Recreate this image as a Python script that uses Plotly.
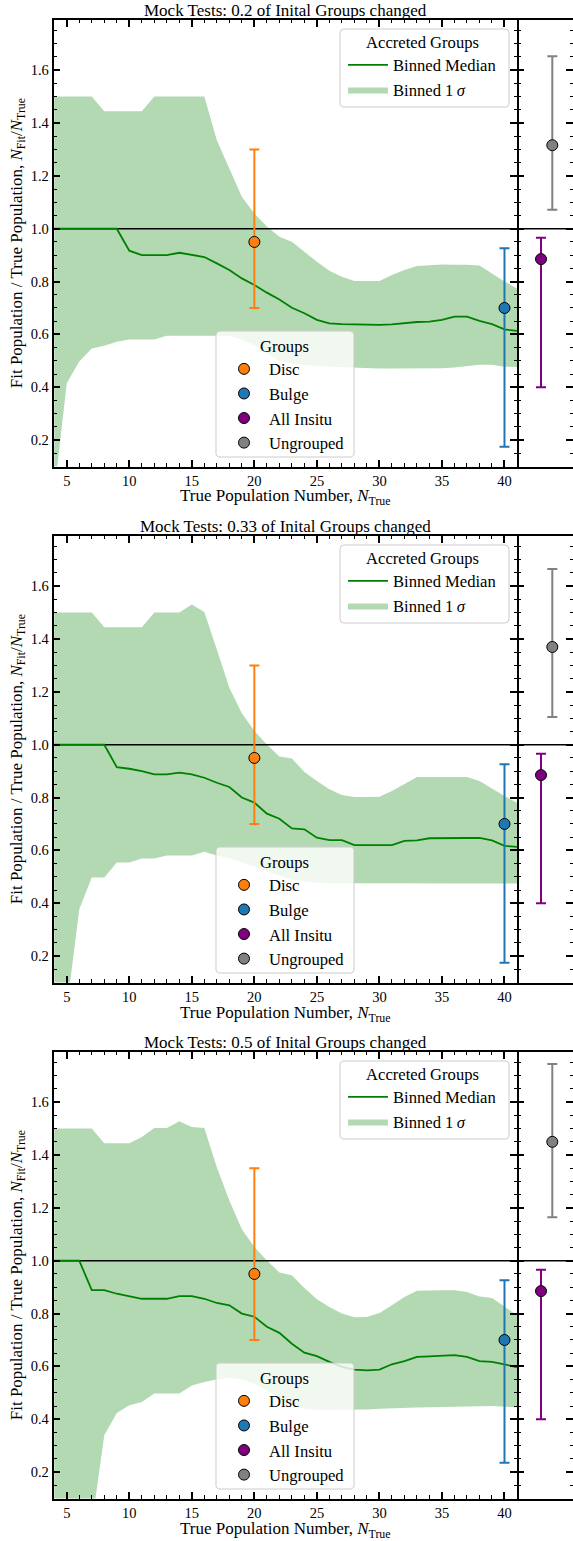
import plotly.graph_objects as go

W, H = 573, 1541
FONT = "Liberation Serif"

# ---------------- data ----------------
n_true = list(range(4, 42))
fractions = ["0.2", "0.33", "0.5"]

median_02 = [1.0, 1.0, 1.0, 1.0, 1.0, 1.0, 0.917, 0.90, 0.90, 0.90, 0.909, 0.902, 0.893, 0.869,
             0.844, 0.812, 0.787, 0.758, 0.732, 0.701, 0.68, 0.655, 0.642, 0.639, 0.638, 0.636,
             0.636, 0.638, 0.642, 0.647, 0.648, 0.655, 0.667, 0.667, 0.651, 0.639, 0.619, 0.613]
upper_02 = [1.5, 1.5, 1.5, 1.5, 1.445, 1.445, 1.445, 1.445, 1.5, 1.5, 1.5, 1.5, 1.5, 1.335,
            1.228, 1.121, 1.058, 1.008, 0.97, 0.951, 0.913, 0.875, 0.841, 0.818, 0.802, 0.802,
            0.802, 0.825, 0.844, 0.859, 0.861, 0.865, 0.864, 0.864, 0.861, 0.831, 0.80, 0.774]
lower_02 = [0.0, 0.415, 0.497, 0.547, 0.557, 0.572, 0.581, 0.581, 0.581, 0.595, 0.595, 0.595,
            0.595, 0.595, 0.595, 0.58, 0.56, 0.53, 0.50, 0.49, 0.485, 0.48, 0.478, 0.476, 0.474,
            0.472, 0.471, 0.471, 0.471, 0.471, 0.471, 0.472, 0.475, 0.48, 0.485, 0.485, 0.478, 0.477]

median_033 = [1.0, 1.0, 1.0, 1.0, 1.0, 0.915, 0.909, 0.90, 0.888, 0.888, 0.894, 0.888, 0.875,
              0.856, 0.84, 0.80, 0.781, 0.739, 0.72, 0.683, 0.68, 0.648, 0.639, 0.639, 0.62, 0.62,
              0.62, 0.62, 0.636, 0.638, 0.646, 0.647, 0.647, 0.647, 0.647, 0.638, 0.617, 0.613]
upper_033 = [1.5, 1.5, 1.5, 1.5, 1.445, 1.445, 1.445, 1.445, 1.5, 1.5, 1.5, 1.531, 1.502, 1.36,
             1.216, 1.119, 1.052, 1.001, 0.955, 0.948, 0.897, 0.863, 0.831, 0.81, 0.802, 0.802,
             0.803, 0.825, 0.852, 0.878, 0.878, 0.878, 0.878, 0.878, 0.863, 0.834, 0.806, 0.78]
lower_033 = [0.0, 0.0, 0.377, 0.497, 0.497, 0.554, 0.554, 0.569, 0.569, 0.581, 0.581, 0.581,
             0.595, 0.581, 0.57, 0.555, 0.54, 0.52, 0.505, 0.49, 0.483, 0.478, 0.476, 0.476,
             0.476, 0.476, 0.476, 0.475, 0.475, 0.475, 0.475, 0.475, 0.475, 0.475, 0.475, 0.475,
             0.475, 0.475]

median_05 = [1.0, 1.0, 1.0, 0.889, 0.889, 0.875, 0.866, 0.856, 0.856, 0.856, 0.866, 0.866, 0.856,
             0.84, 0.831, 0.80, 0.788, 0.75, 0.727, 0.686, 0.652, 0.639, 0.617, 0.598, 0.588,
             0.585, 0.588, 0.608, 0.62, 0.636, 0.638, 0.641, 0.643, 0.636, 0.62, 0.617, 0.608, 0.596]
upper_05 = [1.5, 1.5, 1.5, 1.5, 1.445, 1.445, 1.445, 1.468, 1.502, 1.502, 1.528, 1.506, 1.502,
            1.354, 1.228, 1.119, 1.052, 1.001, 0.955, 0.945, 0.897, 0.854, 0.825, 0.80, 0.786,
            0.787, 0.802, 0.831, 0.863, 0.886, 0.888, 0.888, 0.888, 0.882, 0.865, 0.859, 0.827, 0.793]
lower_05 = [0.0, 0.0, 0.0, 0.0, 0.339, 0.424, 0.453, 0.465, 0.497, 0.497, 0.497, 0.528, 0.541,
            0.55, 0.557, 0.55, 0.535, 0.51, 0.48, 0.455, 0.44, 0.435, 0.435, 0.435, 0.435, 0.437,
            0.44, 0.442, 0.443, 0.444, 0.445, 0.446, 0.448, 0.45, 0.45, 0.45, 0.447, 0.445]

medians = [median_02, median_033, median_05]
uppers = [upper_02, upper_033, upper_05]
lowers = [lower_02, lower_033, lower_05]
for arr in medians + uppers + lowers:
    assert len(arr) == len(n_true)

# grouped points (value, lower, upper) per panel
group_names = ["Disc", "Bulge", "All Insitu", "Ungrouped"]
group_colors = ["#ff7f0e", "#1f77b4", "#800080", "#808080"]
group_x = [20, 40, 1, 2]          # Disc/Bulge on N_True axis; others on side-panel slots
group_side = [False, False, True, True]
disc_val = [0.95, 0.95, 0.95]
disc_lo = [0.70, 0.70, 0.70]
disc_hi = [1.30, 1.30, 1.35]
bulge_val = [0.70, 0.70, 0.70]
bulge_lo = [0.175, 0.175, 0.235]
bulge_hi = [0.926, 0.926, 0.926]
insitu_val = [0.885, 0.885, 0.885]
insitu_lo = [0.40, 0.40, 0.40]
insitu_hi = [0.966, 0.966, 0.966]
ungr_val = [1.316, 1.37, 1.45]
ungr_lo = [1.072, 1.105, 1.165]
ungr_hi = [1.653, 1.665, 1.745]
group_vals = [disc_val, bulge_val, insitu_val, ungr_val]
group_los = [disc_lo, bulge_lo, insitu_lo, ungr_lo]
group_his = [disc_hi, bulge_hi, insitu_hi, ungr_hi]

ref_level = 1.0
x_range = [3.94, 41.0]
y_range = [0.1, 1.79]
side_range = [-1.124, 3.832]

# ---------------- geometry (pixels) ----------------
AX_L, AX_R, SIDE_R = 53.5, 517.0, 573.0
PANEL_TOP0, PANEL_H, PANEL_STEP = 20.0, 446.5, 516.0


def fx(px):
    return px / W


def fy(py):
    return 1 - py / H


fig = go.Figure()
layout = dict(
    width=W, height=H,
    margin=dict(l=0, r=0, t=0, b=0),
    paper_bgcolor="white", plot_bgcolor="rgba(0,0,0,0)",
    hovermode=False,
    font=dict(family=FONT, size=17, color="black"),
)
annotations = []
shapes = []

tickfont = dict(family=FONT, size=14.5, color="black")
legfont = dict(family=FONT, size=16.6, color="black")


def rounded_box(x0, y0, x1, y1, r=4):
    pts = [
        ("M", x0 + r, y0), ("L", x1 - r, y0), ("Q", x1, y0, x1, y0 + r),
        ("L", x1, y1 - r), ("Q", x1, y1, x1 - r, y1), ("L", x0 + r, y1),
        ("Q", x0, y1, x0, y1 - r), ("L", x0, y0 + r), ("Q", x0, y0, x0 + r, y0),
    ]
    s = ""
    for p in pts:
        if p[0] == "Q":
            s += "Q{:.5f},{:.5f} {:.5f},{:.5f} ".format(fx(p[1]), fy(p[2]), fx(p[3]), fy(p[4]))
        else:
            s += "{}{:.5f},{:.5f} ".format(p[0], fx(p[1]), fy(p[2]))
    return s + "Z"


for k in range(3):
    top = PANEL_TOP0 + k * PANEL_STEP
    bot = top + PANEL_H
    ydom = [fy(bot), fy(top)]
    mi = 2 * k + 1
    si = 2 * k + 2
    mx, my = ("x", "y") if mi == 1 else ("x%d" % mi, "y%d" % mi)
    sx, sy = "x%d" % si, "y%d" % si
    mxk = "xaxis" if mi == 1 else "xaxis%d" % mi
    myk = "yaxis" if mi == 1 else "yaxis%d" % mi
    sxk, syk = "xaxis%d" % si, "yaxis%d" % si
    leg_a = "legend" if k == 0 else "legend%d" % (2 * k + 1)
    leg_g = "legend%d" % (2 * k + 2)

    common = dict(showgrid=False, zeroline=False, showline=True, linecolor="black",
                  linewidth=1.5, automargin=False)
    layout[mxk] = dict(common, domain=[fx(AX_L), fx(AX_R)], range=x_range, anchor=my,
                       tickmode="linear", tick0=0, dtick=5, ticks="inside", ticklen=7,
                       tickwidth=1.5, tickcolor="black", mirror="ticks", tickfont=tickfont,
                       minor=dict(ticks="inside", ticklen=3.5, tickwidth=1.2,
                                  tickcolor="black", dtick=1, showgrid=False))
    layout[myk] = dict(common, domain=ydom, range=y_range, anchor=mx,
                       tickmode="linear", tick0=0, dtick=0.2, tickformat=".1f",
                       ticks="inside", ticklen=7, tickwidth=1.5, tickcolor="black",
                       mirror="ticks", tickfont=tickfont,
                       minor=dict(ticks="inside", ticklen=3.5, tickwidth=1.2,
                                  tickcolor="black", dtick=0.05, showgrid=False))
    layout[sxk] = dict(common, domain=[fx(AX_R), fx(SIDE_R)], range=side_range, anchor=sy,
                       ticks="", showticklabels=False, mirror=True)
    layout[syk] = dict(common, domain=ydom, range=y_range, anchor=sx, showline=False,
                       tickmode="linear", tick0=0, dtick=0.2, ticks="inside", ticklen=7,
                       tickwidth=1.5, tickcolor="black", mirror="ticks", showticklabels=False,
                       minor=dict(ticks="inside", ticklen=3.5, tickwidth=1.2,
                                  tickcolor="black", dtick=0.05, showgrid=False))

    # band
    fig.add_trace(go.Scatter(x=n_true, y=lowers[k], mode="lines",
                             line=dict(width=0, color="rgba(0,128,0,0)"),
                             showlegend=False, hoverinfo="skip", xaxis=mx, yaxis=my))
    fig.add_trace(go.Scatter(x=n_true, y=uppers[k], mode="lines", fill="tonexty",
                             fillcolor="rgba(0,128,0,0.3)",
                             line=dict(width=0, color="rgba(0,128,0,0)"),
                             name="Binned 1\u2009<i>σ</i>", legend=leg_a, legendrank=2,
                             xaxis=mx, yaxis=my))
    # reference line (main)
    fig.add_trace(go.Scatter(x=x_range, y=[ref_level, ref_level], mode="lines",
                             line=dict(color="black", width=1.5), showlegend=False,
                             hoverinfo="skip", xaxis=mx, yaxis=my))
    # median
    fig.add_trace(go.Scatter(x=n_true, y=medians[k], mode="lines",
                             line=dict(color="green", width=1.8),
                             name="Binned Median", legend=leg_a, legendrank=1,
                             xaxis=mx, yaxis=my))
    # reference line (side)
    fig.add_trace(go.Scatter(x=side_range, y=[ref_level, ref_level], mode="lines",
                             line=dict(color="black", width=1.5), showlegend=False,
                             hoverinfo="skip", xaxis=sx, yaxis=sy))
    # groups
    for g in range(4):
        v = group_vals[g][k]
        lo = group_los[g][k]
        hi = group_his[g][k]
        fig.add_trace(go.Scatter(
            x=[group_x[g]], y=[v], mode="markers", name=group_names[g], legend=leg_g,
            marker=dict(color=group_colors[g], size=11, line=dict(color="black", width=1)),
            error_y=dict(type="data", symmetric=False, array=[hi - v], arrayminus=[v - lo],
                         color=group_colors[g], thickness=2, width=5),
            xaxis=sx if group_side[g] else mx, yaxis=sy if group_side[g] else my))

    # legend boxes (matplotlib style)
    shapes.append(dict(type="path", xref="paper", yref="paper", layer="above",
                       path=rounded_box(340, top + 9, 509, top + 87),
                       fillcolor="rgba(255,255,255,0.8)", line=dict(color="#cccccc", width=1)))
    shapes.append(dict(type="path", xref="paper", yref="paper", layer="above",
                       path=rounded_box(216, top + 311, 354, top + 437),
                       fillcolor="rgba(255,255,255,0.8)", line=dict(color="#cccccc", width=1)))

    layout[leg_a] = dict(x=fx(343), y=fy(top + 6), xanchor="left", yanchor="top",
                         bgcolor="rgba(0,0,0,0)", borderwidth=0, font=legfont,
                         traceorder="normal",
                         title=dict(text="Accreted Groups", side="top center", font=legfont),
                         itemwidth=40, tracegroupgap=0)
    layout[leg_g] = dict(x=fx(219), y=fy(top + 310), xanchor="left", yanchor="top",
                         bgcolor="rgba(0,0,0,0)", borderwidth=0, font=legfont,
                         traceorder="normal",
                         title=dict(text="Groups", side="top center", font=legfont),
                         itemwidth=40, tracegroupgap=0)

    # texts
    cx = fx((AX_L + AX_R) / 2)
    annotations.append(dict(text="Mock Tests: %s of Inital Groups changed" % fractions[k],
                            x=cx, y=fy(top - 9.5), xref="paper", yref="paper",
                            xanchor="center", yanchor="middle", showarrow=False,
                            font=dict(family=FONT, size=17, color="black")))
    annotations.append(dict(text="True Population Number, <i>N</i><sub>True</sub>",
                            x=cx, y=fy(bot + 31), xref="paper", yref="paper",
                            xanchor="center", yanchor="middle", showarrow=False,
                            font=dict(family=FONT, size=17, color="black")))
    annotations.append(dict(text="Fit Population / True Population, <i>N</i><sub>Fit</sub>/<i>N</i><sub>True</sub>",
                            x=fx(18), y=fy((top + bot) / 2), xref="paper", yref="paper",
                            xanchor="center", yanchor="middle", textangle=-90, showarrow=False,
                            font=dict(family=FONT, size=17, color="black")))

layout["annotations"] = annotations
layout["shapes"] = shapes
fig.update_layout(**layout)
fig.write_html("out.html",
               config={"displayModeBar": False},
               post_script="document.body.style.margin='0px';"
                           "document.documentElement.style.overflow='hidden';")
